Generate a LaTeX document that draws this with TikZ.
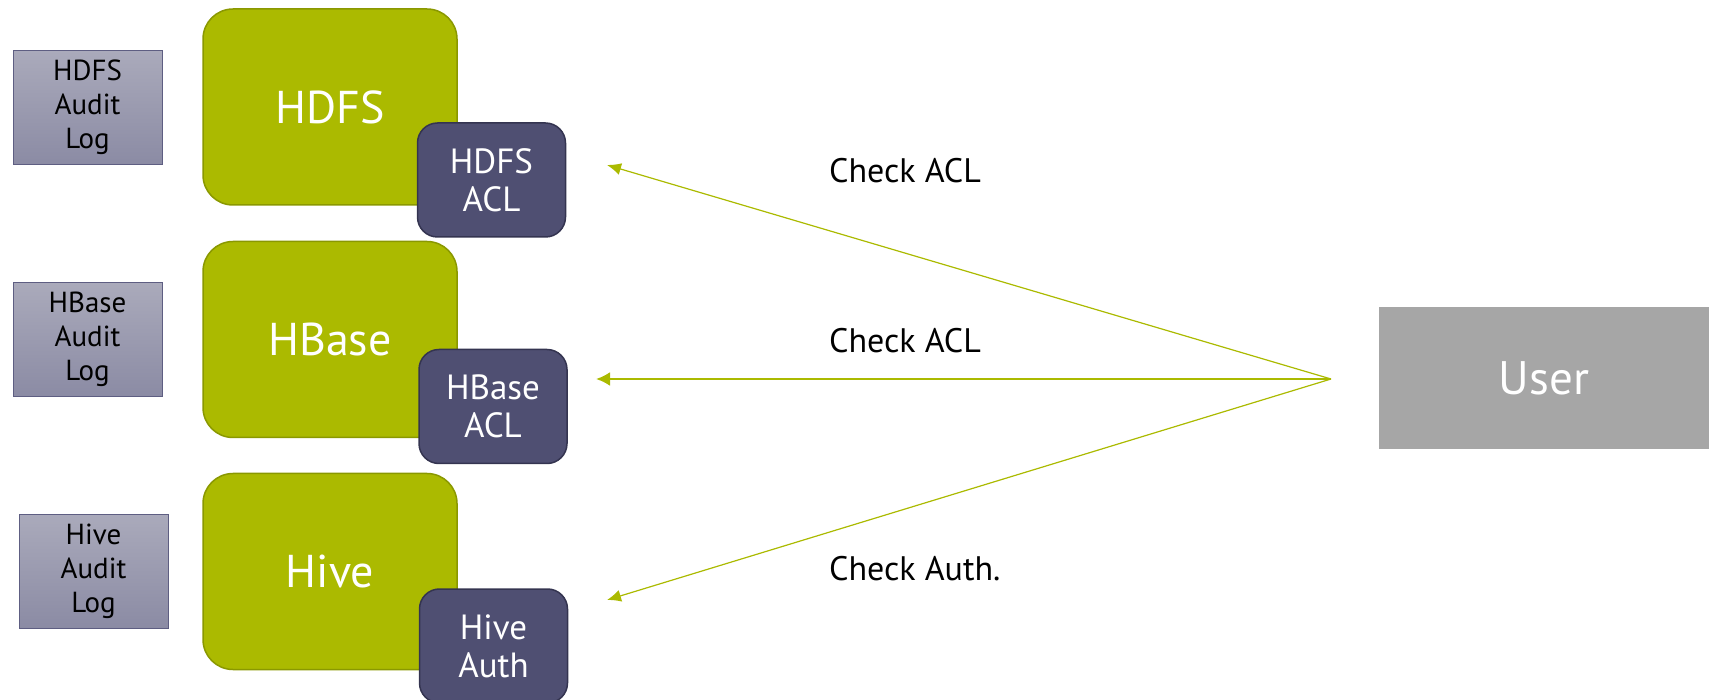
\documentclass[tikz,border=0pt]{standalone}
\usepackage{fontspec}
\setmainfont{PT Sans}
\usetikzlibrary{arrows.meta}
\definecolor{nvg}{HTML}{ABBA00}
\definecolor{nvgd}{HTML}{8A9800}
\definecolor{aclf}{HTML}{4F4F72}
\definecolor{acld}{HTML}{343450}
\definecolor{audt}{HTML}{AAAABB}
\definecolor{audb}{HTML}{8B8BA4}
\definecolor{auddr}{HTML}{5E5E82}
\definecolor{userf}{HTML}{A6A6A6}
\definecolor{arr}{HTML}{ABBA00}
\tikzset{
  svc/.style={draw=nvgd, line width=1.5pt, fill=nvg, rounded corners=30pt, minimum width=254pt, minimum height=196pt, inner sep=0pt, text=white, font=\fontsize{46}{50}\selectfont},
  acl/.style={draw=acld, line width=1.5pt, fill=aclf, rounded corners=20pt, minimum width=148pt, minimum height=114pt, inner sep=0pt, text=white, align=center, font=\fontsize{35}{38}\selectfont},
  audit/.style={draw=auddr, line width=1pt, top color=audt, bottom color=audb, minimum width=149pt, minimum height=114pt, inner sep=0pt, text=black, align=center, font=\fontsize{29}{34}\selectfont},
  usr/.style={fill=userf, minimum width=330pt, minimum height=142pt, inner sep=0pt, text=white, font=\fontsize{47}{50}\selectfont},
  lbl/.style={anchor=west, inner sep=0pt, text=black, font=\fontsize{34}{38}\selectfont},
  conn/.style={draw=arr, line width=1.2pt, -{Latex[length=14pt,width=12pt]}},
  connb/.style={draw=arr, line width=2.5pt, -{Latex[length=14pt,width=14pt]}}
}
\begin{document}
\begin{tikzpicture}[x=1pt,y=-1pt]
\useasboundingbox (0,0) rectangle (1709,700);
% audit logs
\node[audit] (hdfslog) at (87.5,107.5) {HDFS\\Audit\\Log};
\node[audit] (hbaselog) at (87.5,339.5) {HBase\\Audit\\Log};
\node[audit] (hivelog) at (93.5,571) {Hive\\Audit\\Log};
% services
\node[svc] (hdfs) at (330,107) {HDFS};
\node[svc] (hbase) at (330,339.5) {HBase};
\node[svc] (hive) at (330,571.5) {Hive};
% acls
\node[acl] (hdfsacl) at (491.5,180) {HDFS\\ACL};
\node[acl] (hbaseacl) at (493,406.5) {HBase\\ACL};
\node[acl] (hiveauth) at (493.5,646) {Hive\\Auth};
% user
\node[usr] (user) at (1544,378) {User};
% connectors
\coordinate (src) at (1331,379);
\coordinate (t1) at (607,165);
\coordinate (t2) at (596,379);
\coordinate (t3) at (607,600);
\draw[conn] (src) -- (t1);
\draw[connb] (src) -- (t2);
\draw[conn] (src) -- (t3);
% labels
\node[lbl] (l1) at (829,171) {Check ACL};
\node[lbl] (l2) at (829,341) {Check ACL};
\node[lbl] (l3) at (829,569) {Check Auth.};
\end{tikzpicture}
\end{document}
